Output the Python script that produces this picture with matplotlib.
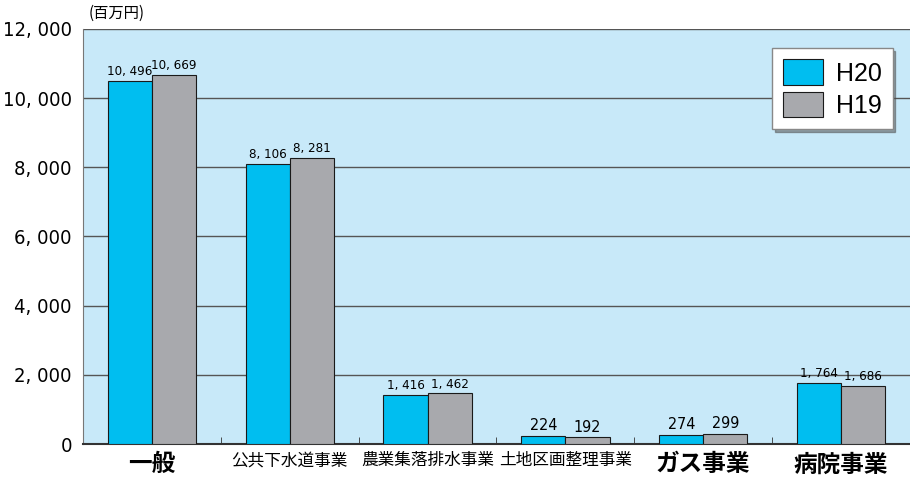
import numpy as np
import matplotlib
matplotlib.use("Agg")
import matplotlib.pyplot as plt
from matplotlib.ticker import FuncFormatter, FixedLocator

categories = ["一般", "公共下水道事業", "農業集落排水事業", "土地区画整理事業", "ガス事業", "病院事業"]
h20 = [10496, 8106, 1416, 224, 274, 1764]
h19 = [10669, 8281, 1462, 192, 299, 1686]
label_sizes = [17, 12, 12, 12, 17, 17]
label_weights = ["bold", "normal", "normal", "normal", "bold", "bold"]

narrow = ["DejaVu Sans"]
cjk = ["Noto Sans CJK JP", "DejaVu Sans"]

fig = plt.figure(figsize=(9.1, 4.8), dpi=100)
ax = fig.add_axes([0.0912, 0.075, 0.9088, 0.8646])
ax.set_facecolor("#C8E9F9")

x = np.arange(len(categories))
w = 0.32
b1 = ax.bar(x - w / 2, h20, w, color="#00BEF0", edgecolor="#1a1a1a", linewidth=0.8, label="H20", zorder=3)
b2 = ax.bar(x + w / 2, h19, w, color="#A8A9AD", edgecolor="#1a1a1a", linewidth=0.8, label="H19", zorder=3)

for bars, vals in ((b1, h20), (b2, h19)):
    for r, v in zip(bars, vals):
        size = 9.5 if v >= 1000 else 11.5
        ax.text(r.get_x() + r.get_width() / 2, v + 80, f"{v:,}".replace(",", ", "),
                ha="center", va="bottom", fontsize=size, family=narrow,
                fontstretch="condensed", zorder=4)

ax.set_xlim(-0.5, len(categories) - 0.5)
ax.set_ylim(0, 12000)
ax.set_yticks(np.arange(0, 12001, 2000))
ax.yaxis.set_major_formatter(FuncFormatter(lambda v, p: f"{int(v):,}".replace(",", ", ")))
ax.grid(axis="y", color="#555555", linewidth=1.0, zorder=1)
ax.tick_params(axis="y", length=0, labelsize=14.5, pad=8)
for t in ax.get_yticklabels():
    t.set_family(narrow)
    t.set_fontstretch("condensed")

ax.set_xticks(x)
ax.set_xticklabels(categories)
ax.tick_params(axis="x", length=0, pad=6)
for t, s, wt in zip(ax.get_xticklabels(), label_sizes, label_weights):
    t.set_family(cjk)
    t.set_fontsize(s)
    t.set_fontweight(wt)
ax.xaxis.set_minor_locator(FixedLocator(x[:-1] + 0.5))
ax.tick_params(axis="x", which="minor", direction="in", length=5, color="#333333")

for s in ["top", "right"]:
    ax.spines[s].set_visible(False)
ax.spines["left"].set_color("#777777")
ax.spines["bottom"].set_color("#333333")
ax.spines["bottom"].set_linewidth(1.5)

fig.text(0.097, 0.955, "(百万円)", fontsize=11, family=cjk, ha="left", va="bottom")

leg = ax.legend(loc="upper right", bbox_to_anchor=(0.979, 0.954), borderaxespad=0,
                frameon=True, fancybox=False, shadow=True, handlelength=1.6,
                handleheight=1.2, borderpad=0.45, labelspacing=0.25, handletextpad=0.5,
                prop={"family": ["Liberation Sans", "DejaVu Sans"], "size": 18})
leg.get_frame().set_edgecolor("#888888")
leg.get_frame().set_facecolor("white")
leg.get_frame().set_alpha(1)

fig.savefig("out.png", dpi=100)
